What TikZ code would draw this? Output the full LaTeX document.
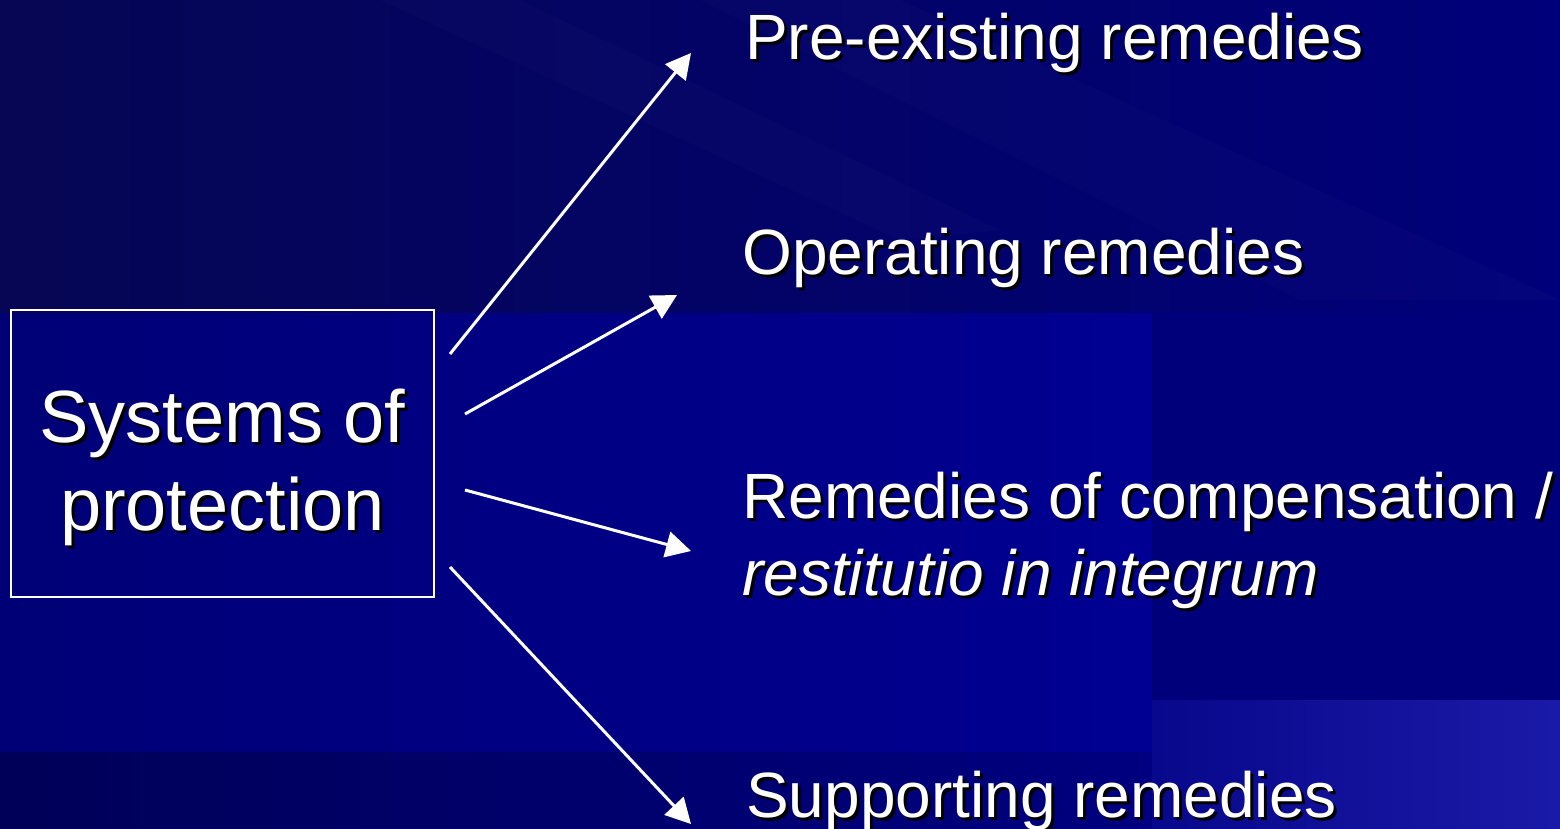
\documentclass[tikz,border=0pt]{standalone}
\usepackage{fontspec}
\setmainfont{Liberation Sans}
\usetikzlibrary{arrows.meta}
\definecolor{bgA}{RGB}{6,6,84}
\definecolor{bgB}{RGB}{0,0,122}
\definecolor{bandA}{RGB}{0,0,118}
\definecolor{bandB}{RGB}{0,0,146}
\definecolor{rightC}{RGB}{0,0,122}
\definecolor{botA}{RGB}{0,0,88}
\definecolor{botB}{RGB}{0,0,128}
\definecolor{brA}{RGB}{8,8,140}
\definecolor{brB}{RGB}{26,26,168}
\newcommand\shd[1]{\makebox[0pt][l]{\kern3pt\raisebox{-3pt}{\color{black}#1}}{\color{white}#1}}
\tikzset{
  rtext/.style={anchor=base west, inner sep=0pt, align=left, font=\fontsize{64}{77}\selectfont},
  ltext/.style={anchor=base, inner sep=0pt, align=center, font=\fontsize{74}{88}\selectfont},
  sysbox/.style={draw=white, line width=2pt, minimum width=423pt, minimum height=287pt, inner sep=0pt},
  conn/.style={draw=white, line width=3pt, -{Triangle[length=25pt,width=26pt]}}
}
\begin{document}
\begin{tikzpicture}[x=1pt,y=-1pt]
\useasboundingbox (0,0) rectangle (1560,829);
% background
\shade[left color=bgA, right color=bgB] (0,0) rectangle (1560,829);
\fill[white, opacity=0.015] (380,0) -- (520,0) -- (1000,230) -- (900,240) -- cycle;
\fill[white, opacity=0.015] (700,0) -- (900,0) -- (1560,300) -- (1300,300) -- cycle;
\shade[left color=bandA, right color=bandB] (0,313) rectangle (1152,752);
\fill[rightC] (1152,313) rectangle (1560,700);
\shade[left color=botA, right color=botB] (0,752) rectangle (1152,829);
\shade[left color=brA, right color=brB] (1152,700) rectangle (1560,829);
% box
\node[sysbox] (sys) at (222.5,453.5) {};
\node[ltext] (systxt) at (222.5,530) {\shd{Systems of}\\\shd{protection}};
% targets
\node[rtext] (pre) at (745,60) {\shd{Pre-existing remedies}};
\node[rtext] (op) at (742,274) {\shd{Operating remedies}};
\node[rtext] (comp) at (742,595) {\shd{Remedies of compensation /}\\\shd{\itshape restitutio in integrum}};
\node[rtext] (sup) at (746,817) {\shd{Supporting remedies}};
% arrow endpoints
\coordinate (s1) at (450,354);
\coordinate (t1) at (691,53);
\coordinate (s2) at (465,414);
\coordinate (t2) at (677,295);
\coordinate (s3) at (465,490);
\coordinate (t3) at (691,551);
\coordinate (s4) at (450,567);
\coordinate (t4) at (691,824);
\draw[conn] (s1) -- (t1);
\draw[conn] (s2) -- (t2);
\draw[conn] (s3) -- (t3);
\draw[conn] (s4) -- (t4);
\end{tikzpicture}
\end{document}
